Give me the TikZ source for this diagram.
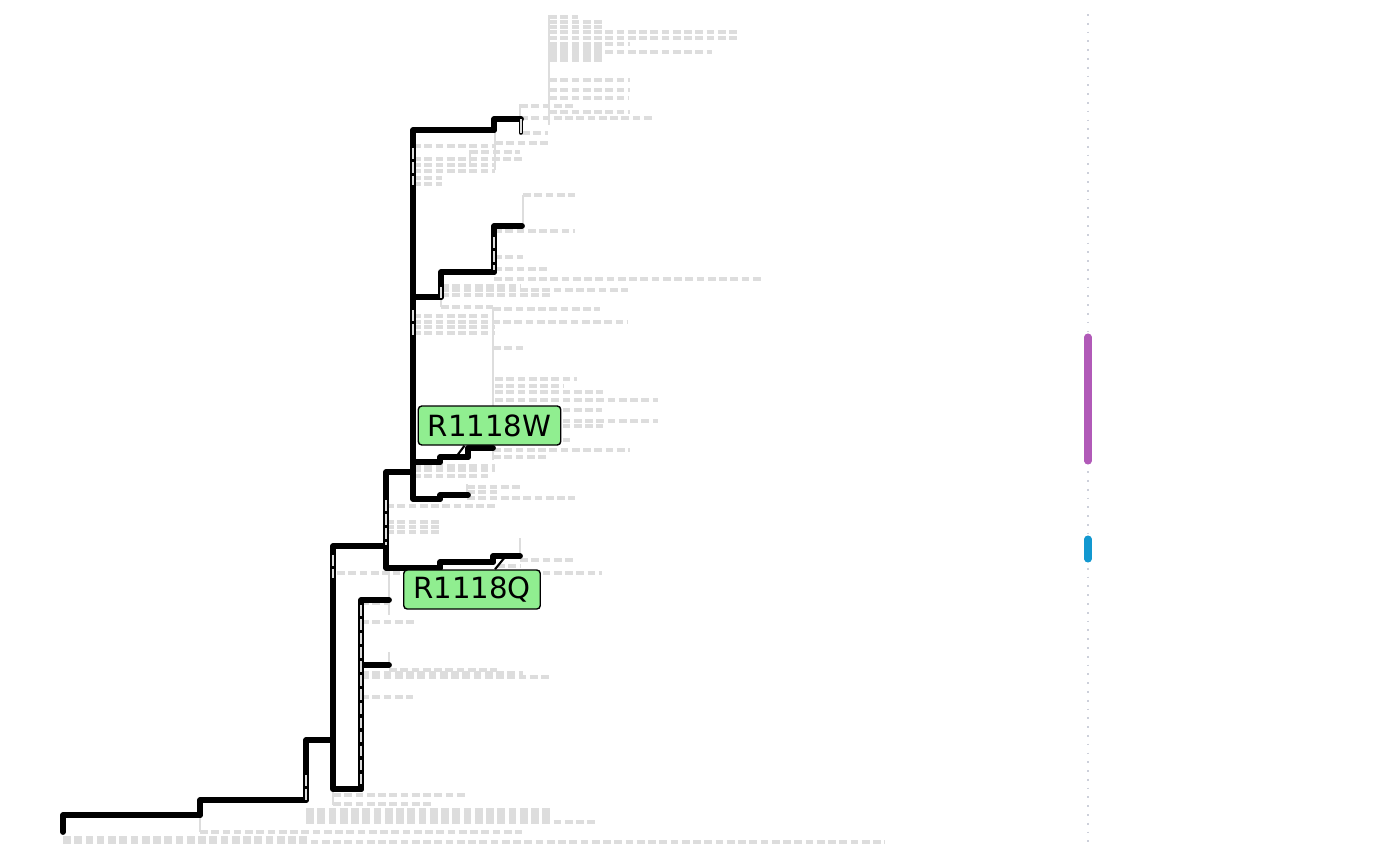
\documentclass[tikz,border=0pt]{standalone}
\usepackage{fontspec}
\setmainfont{DejaVu Sans}
\usetikzlibrary{positioning, calc}

\definecolor{tagfill}{RGB}{144,238,144}
\definecolor{bggray}{RGB}{221,221,221}
\definecolor{axisgray}{RGB}{205,208,218}
\definecolor{clademauve}{RGB}{177,90,184}
\definecolor{cladeblue}{RGB}{18,152,208}

\begin{document}
\begin{tikzpicture}[
    x=0.01cm, y=-0.01cm,
    every node/.style={font=\fontsize{8.3}{10}\selectfont},
    branch/.style={draw=black, line width=1.65pt, line cap=round, line join=round},
    bg/.style={draw=bggray, line width=1pt, dash pattern=on 2.2pt off 1pt},
    bgv/.style={draw=bggray, line width=0.8pt},
    bghi/.style={draw=bggray, line width=0.6pt, dash pattern=on 3pt off 1pt},
    tag/.style={draw=black, line width=0.4pt, fill=tagfill, rounded corners=1pt, inner xsep=0.095cm, inner ysep=0pt, minimum height=0.39cm},
    tagline/.style={draw=black, line width=0.6pt},
    axis/.style={draw=axisgray, line width=0.5pt, dotted},
    bar/.style={line width=2pt, line cap=round}
]
    \useasboundingbox (0,0) rectangle (1400,866);

    \draw[bgv] (549,15) -- (549,125) (520,104) -- (520,135) (495,130) -- (495,170) (470,150) -- (470,165);
    \draw[bg] (549,17) -- (578,17) (549,22) -- (604,22) (549,27) -- (604,27) (549,32) -- (739,32) (549,38) -- (737,38)
        (549,44) -- (630,44) (549,48) -- (602,48) (549,52) -- (712,52) (549,56) -- (602,56) (549,60) -- (602,60)
        (549,80) -- (630,80) (549,90) -- (630,90) (549,98) -- (628,98) (520,106) -- (573,106) (549,112) -- (630,112)
        (520,118) -- (655,118) (522,133) -- (548,133) (495,143) -- (548,143);
    \draw[bg] (413,146) -- (495,146) (470,152) -- (520,152) (413,159) -- (522,159) (413,165) -- (495,165)
        (413,171) -- (495,171) (413,178) -- (442,178) (413,184) -- (442,184);
    \draw[bgv] (523,195) -- (523,225) (441,295) -- (441,307) (493,308) -- (493,460);
    \draw[bg] (523,195) -- (575,195) (494,231) -- (575,231) (494,257) -- (523,257) (494,269) -- (549,269)
        (494,279) -- (763,279) (441,286) -- (521,286) (441,290) -- (628,290) (441,295) -- (550,295)
        (441,307) -- (493,307) (493,309) -- (600,309) (413,316) -- (493,316) (413,322) -- (627,322)
        (413,327) -- (495,327) (413,333) -- (495,333) (493,348) -- (523,348);
    \draw[bg] (495,379) -- (577,379) (495,386) -- (563,386) (495,392) -- (603,392) (495,400) -- (658,400)
        (495,410) -- (602,410) (495,421) -- (658,421) (495,426) -- (603,426) (495,440) -- (573,440)
        (493,450) -- (630,450) (493,457) -- (548,457);
    \draw[bgv] (467,484) -- (467,494) (520,538) -- (520,556) (389,575) -- (389,615) (389,652) -- (389,668);
    \draw[bg] (413,466) -- (495,466) (413,470) -- (495,470) (413,476) -- (490,476) (467,487) -- (522,487)
        (467,492) -- (498,492) (467,498) -- (575,498) (386,506) -- (495,506) (386,522) -- (440,522)
        (386,527) -- (440,527) (386,532) -- (440,532) (520,560) -- (575,560) (497,566) -- (520,566)
        (520,573) -- (602,573) (337,573) -- (400,573);
    \draw[bg] (361,603) -- (389,603) (361,622) -- (415,622) (389,670) -- (497,670) (361,673) -- (523,673)
        (361,677) -- (550,677) (361,697) -- (413,697);
    \draw[bgv] (333,790) -- (333,805) (200,815) -- (200,832);
    \draw[bg] (333,795) -- (467,795) (333,804) -- (433,804) (306,810) -- (550,810) (306,814) -- (550,814)
        (306,818) -- (550,818) (306,822) -- (597,822) (200,832) -- (522,832) (63,838) -- (310,838)
        (63,842) -- (885,842);

    \coordinate (r0) at (63,832);
    \coordinate (r1) at (200,815);
    \coordinate (r2) at (306,800);
    \coordinate (r3) at (333,740);
    \coordinate (r4) at (361,789);
    \coordinate (r5) at (386,546);
    \coordinate (r6) at (413,472);
    \coordinate (a1) at (389,600);
    \coordinate (a2) at (389,665);
    \coordinate (q1) at (440,568);
    \coordinate (q2) at (493,562);
    \coordinate (q3) at (520,556);
    \coordinate (t1) at (494,130);
    \coordinate (t2) at (521,119);
    \coordinate (b1) at (441,297);
    \coordinate (b2) at (494,272);
    \coordinate (b3) at (522,226);
    \coordinate (w1) at (440,462);
    \coordinate (w2) at (468,457);
    \coordinate (w3) at (493,448);
    \coordinate (m1) at (440,499);
    \coordinate (m2) at (468,495);
    \coordinate (wmut) at (456,457);
    \coordinate (qmut) at (505,557);

    \draw[branch] (r0) |- (r1);
    \draw[branch] (r1) |- (r2);
    \draw[branch] (r2) |- (r3);
    \draw[branch] (r3) |- (r4);
    \draw[branch] (r3) |- (r5);
    \draw[branch] (r4) |- (a1);
    \draw[branch] (r4) |- (a2);
    \draw[branch] (r5) |- (r6);
    \draw[branch] (r5) |- (q1);
    \draw[branch] (q1) |- (q2);
    \draw[branch] (q2) |- (q3);
    \draw[branch] (r6) |- (t1);
    \draw[branch] (t1) |- (t2);
    \draw[branch] (r6) |- (b1);
    \draw[branch] (b1) |- (b2);
    \draw[branch] (b2) |- (b3);
    \draw[branch] (r6) |- (w1);
    \draw[branch] (w1) |- (w2);
    \draw[branch] (w2) |- (w3);
    \draw[branch] (r6) |- (m1);
    \draw[branch] (m1) |- (m2);
    \draw[draw=black, line width=1pt, line cap=round] (t2) -- ++(0,14);
    \draw[draw=bggray, line width=0.4pt] (t2) -- ++(0,14);

    \draw[bghi] (413,148) -- (413,185) (413,310) -- (413,335) (386,500) -- (386,545) (333,555) -- (333,578)
        (361,605) -- (361,785) (306,775) -- (306,800) (494,237) -- (494,270) (441,287) -- (441,300);

    \node[tag] (lblW) at (489.5,425.5) {R1118W};
    \node[tag] (lblQ) at (472,589.5) {R1118Q};
    \draw[tagline] (wmut) -- ($(lblW.south)+(-25,0)$);
    \draw[tagline] (qmut) -- ($(lblQ.north)+(23,0)$);

    \coordinate (axtop) at (1088,14);
    \coordinate (axbot) at (1088,845);
    \coordinate (mtop) at (1088,337);
    \coordinate (mbot) at (1088,461);
    \coordinate (btop) at (1088,539);
    \coordinate (bbot) at (1088,559);
    \draw[axis] (axtop) -- (axbot);
    \draw[bar, draw=clademauve] (mtop) -- (mbot);
    \draw[bar, draw=cladeblue] (btop) -- (bbot);
\end{tikzpicture}
\end{document}
